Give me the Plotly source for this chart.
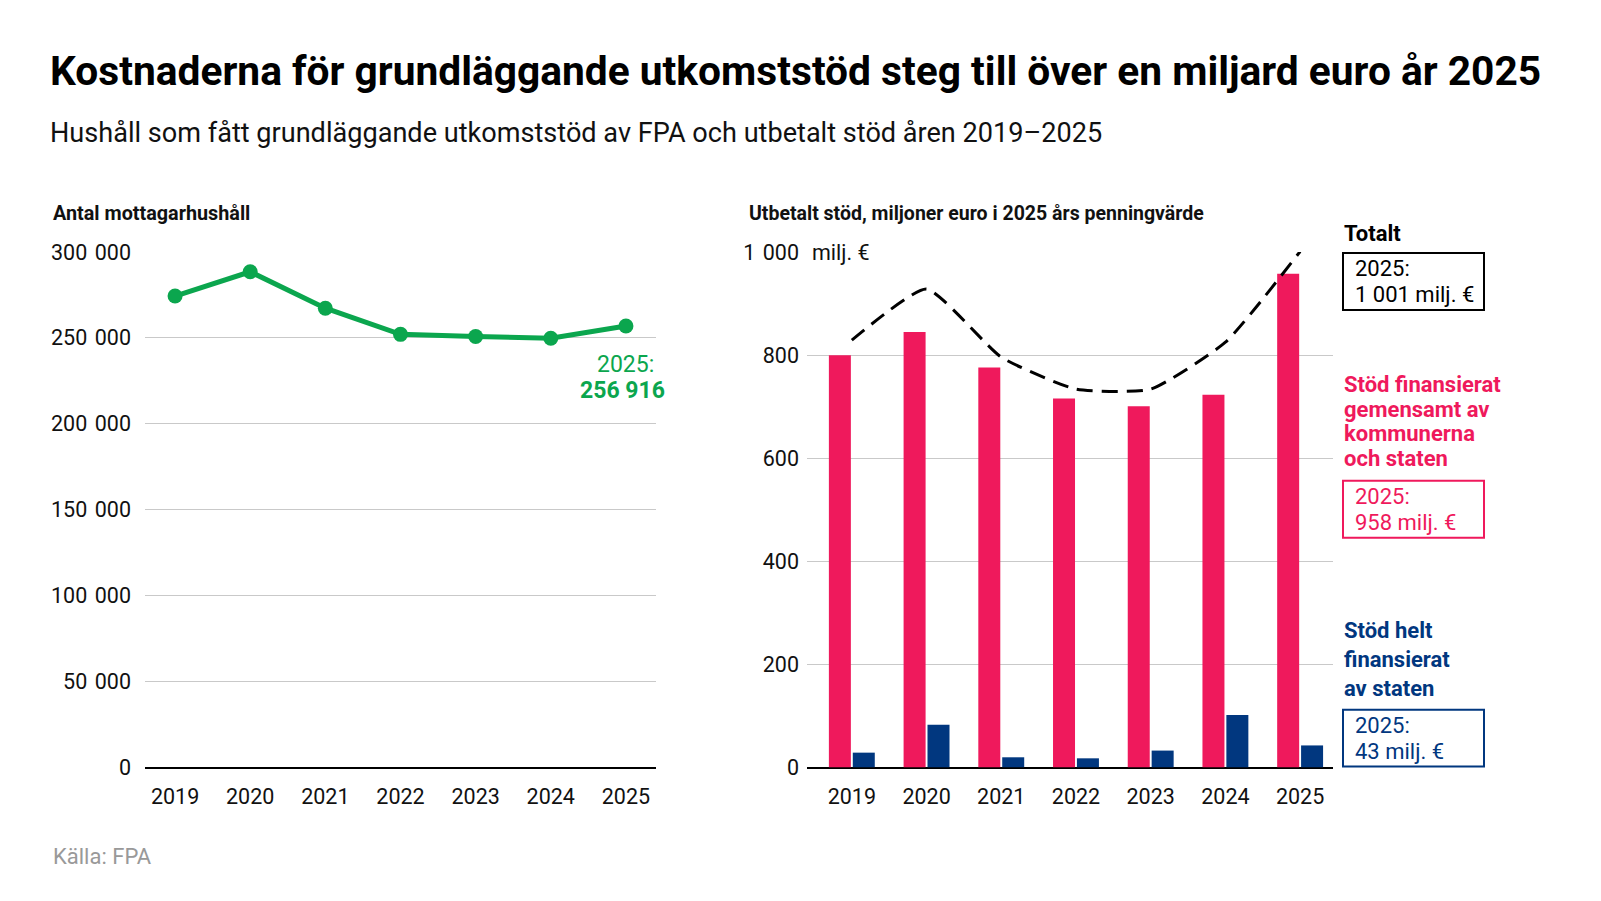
import plotly.graph_objects as go

# data
years = ["2019", "2020", "2021", "2022", "2023", "2024", "2025"]
households = [274400, 288500, 267300, 252100, 250800, 249800, 256916]
joint_support = [800, 845, 776, 716, 701, 723, 958]      # kommunerna och staten
state_support = [29, 83, 20, 18, 33, 102, 43]            # helt av staten
total_support = [j + s for j, s in zip(joint_support, state_support)]
total_support[-1] = 1001

hh_ticks = [0, 50000, 100000, 150000, 200000, 250000, 300000]
eur_ticks = [0, 200, 400, 600, 800, 1000]

GREEN = "#0ba64e"
PINK = "#ef195c"
BLUE = "#01377f"
GRID = "#c9c9c9"
W, H = 1601, 901
FONT = "Roboto"


def px(x):
    return x / W


def py(y):
    # the page comes out a little squeezed vertically, so correct for it
    return 1 - (y - 11.8) / 876.7


def fmt(v, sep=" "):
    return f"{v:,}".replace(",", sep)


fig = go.Figure()

# left: number of households
fig.add_trace(go.Scatter(x=years, y=households, mode="lines+markers",
                         line=dict(color=GREEN, width=5),
                         marker=dict(color=GREEN, size=15),
                         cliponaxis=False, xaxis="x", yaxis="y"))

# right: paid support
fig.add_trace(go.Bar(x=years, y=joint_support, marker=dict(color=PINK, line_width=0),
                     xaxis="x2", yaxis="y2"))
fig.add_trace(go.Bar(x=years, y=state_support, marker=dict(color=BLUE, line_width=0),
                     xaxis="x2", yaxis="y2"))
fig.add_trace(go.Scatter(x=years, y=total_support, mode="lines",
                         line=dict(color="black", width=3, dash="16px,9px",
                                   shape="spline", smoothing=0.5),
                         cliponaxis=False, xaxis="x3", yaxis="y2"))

ydom = [py(768), py(252)]
tickfont = dict(family=FONT, size=21.5, color="#111")
TSEP = " \u200a"

fig.update_layout(
    width=W, height=H, margin=dict(l=0, r=0, t=0, b=0),
    paper_bgcolor="white", plot_bgcolor="white", showlegend=False,
    barmode="group", bargap=0.36, bargroupgap=0.08,
    xaxis=dict(domain=[px(145), px(656)], range=[-0.4, 6.4], type="category",
               showgrid=False, showline=False, zeroline=False, ticks="",
               tickfont=tickfont, ticklabelstandoff=14),
    yaxis=dict(domain=ydom, range=[0, 300000], tickvals=hh_ticks,
               ticktext=[fmt(v, TSEP) for v in hh_ticks], showgrid=True, gridcolor=GRID,
               gridwidth=1, zeroline=True, zerolinecolor="black", zerolinewidth=1.5,
               showline=False, tickfont=tickfont, ticklabelstandoff=13),
    xaxis2=dict(domain=[px(807), px(1333)], range=[-0.6, 6.44], type="category",
                showgrid=False, showline=False, zeroline=False, ticks="",
                tickfont=tickfont, ticklabelstandoff=14, anchor="y2"),
    xaxis3=dict(domain=[px(807), px(1333)], range=[-0.6, 6.44], type="category",
                visible=False, overlaying="x2", anchor="y2"),
    yaxis2=dict(domain=ydom, range=[0, 1000], tickvals=eur_ticks,
                ticktext=[fmt(v, TSEP) for v in eur_ticks], showgrid=True, gridcolor=GRID,
                gridwidth=1, zeroline=True, zerolinecolor="black", zerolinewidth=1.5,
                showline=False, tickfont=tickfont, ticklabelstandoff=7, anchor="x2"),
)

# white patch so the top gridline starts after the unit label
fig.add_shape(type="rect", xref="paper", yref="paper", x0=px(806), x1=px(881),
              y0=py(262), y1=py(242), fillcolor="white", line_width=0, layer="above")

ann = []


def text(x, y, t, size, color="#111", bold=False, anchor="left"):
    if bold:
        t = f"<b>{t}</b>"
    ann.append(dict(x=px(x), y=py(y), xref="paper", yref="paper", text=t,
                    showarrow=False, xanchor=anchor, yanchor="middle", align=anchor,
                    font=dict(family=FONT, size=size, color=color)))


def lines(x, y0, step, rows, size, color, bold=False):
    for i, row in enumerate(rows):
        text(x, y0 + i * step, row, size, color, bold)


text(48, 71, "Kostnaderna för grundläggande utkomststöd steg till över en miljard euro år 2025",
     40.7, "#000", True)
text(48, 133, "Hushåll som fått grundläggande utkomststöd av FPA och utbetalt stöd åren 2019–2025",
     27.1, "#111")
text(51, 213, "Antal mottagarhushåll", 19.8, "#111", True)
text(747, 213, "Utbetalt stöd, miljoner euro i 2025 års penningvärde", 19.5, "#111", True)
text(810, 252, "milj. €", 21.5)
text(51, 857, "Källa: FPA", 22, "#999")

# 2025 value on the left line
text(656, 365, f"{years[-1]}:", 23, GREEN, anchor="right")
text(667, 391, fmt(households[-1]), 23, GREEN, True, anchor="right")

# right hand legend labels
text(1342, 233, "Totalt", 22, "#000", True)
lines(1342, 385, 24.5, ["Stöd finansierat", "gemensamt av", "kommunerna", "och staten"],
      22, PINK, True)
lines(1342, 631, 29, ["Stöd helt", "finansierat", "av staten"], 22, BLUE, True)

boxes = [(253, total_support[-1], "#000"),
         (481, joint_support[-1], PINK),
         (710, state_support[-1], BLUE)]
for top, val, col in boxes:
    fig.add_shape(type="rect", xref="paper", yref="paper", x0=px(1343), x1=px(1484),
                  y0=py(top), y1=py(top + 57), line=dict(color=col, width=2))
    lines(1353, top + 16, 25.5, [f"{years[-1]}:", f"{fmt(val)} milj. €"], 22, col)

fig.update_layout(annotations=ann)
fig.write_html("out.html", config={"displayModeBar": False},
               post_script="document.body.style.margin='0';"
                           "document.documentElement.style.overflow='hidden';")
